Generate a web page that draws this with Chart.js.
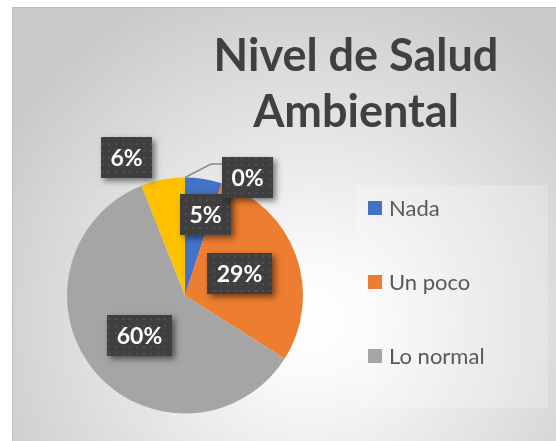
<!DOCTYPE html>
<html>
<head>
<script src="https://cdn.jsdelivr.net/npm/chart.js@4.4.1/dist/chart.umd.min.js"></script>
<style>
    body { margin: 0; background: #ffffff; }
    #wrap { width: 556px; height: 441px; }
</style>
</head>
<body>
<div id="wrap"><canvas id="myChart" width="556" height="441"></canvas></div>
<script>
    var titleLines = ['Nivel de Salud', 'Ambiental'];
    var categories = ['Nada', 'Un poco', 'Lo normal', 'Bastante', 'Mucho'];
    var values = [5, 29, 60, 6, 0];
    var colors = ['#4472C4', '#ED7D31', '#A5A5A5', '#FFC000', '#5B9BD5'];
    var legendShown = 3; // the legend is cut off after the third entry in the original

    // dotted dark fill for the label boxes
    var dots = document.createElement('canvas');
    dots.width = 7; dots.height = 7;
    var dctx = dots.getContext('2d');
    dctx.fillStyle = '#3f3f3f';
    dctx.fillRect(0, 0, 7, 7);
    dctx.fillStyle = '#505050';
    dctx.fillRect(3, 3, 2, 2);

    var backdrop = {
        id: 'backdrop',
        beforeDraw: function (chart) {
            var ctx = chart.ctx;
            ctx.save();
            ctx.fillStyle = '#ffffff';
            ctx.fillRect(0, 0, chart.width, chart.height);
            var g = ctx.createRadialGradient(310, 320, 0, 310, 320, 360);
            g.addColorStop(0, '#ffffff');
            g.addColorStop(0.15, '#fbfbfb');
            g.addColorStop(1, '#c9c9c9');
            ctx.fillStyle = g;
            ctx.fillRect(12, 7, chart.width - 12, chart.height - 7);
            ctx.strokeStyle = '#bdbdbd';
            ctx.lineWidth = 1;
            ctx.beginPath();
            ctx.moveTo(12.5, chart.height);
            ctx.lineTo(12.5, 7.5);
            ctx.lineTo(chart.width, 7.5);
            ctx.stroke();
            // legend panel
            ctx.fillStyle = 'rgba(255,255,255,0.22)';
            ctx.fillRect(356, 185, 192, 223);
            ctx.restore();
        }
    };

    var decor = {
        id: 'decor',
        afterDraw: function (chart) {
            var ctx = chart.ctx;
            ctx.save();
            ctx.fillStyle = '#404040';
            ctx.font = 'bold 45px Lato';
            ctx.textAlign = 'center';
            ctx.textBaseline = 'alphabetic';
            ctx.fillText(titleLines[0], 356, 71);
            ctx.fillText(titleLines[1], 356, 127);

            ctx.font = '22px Lato';
            ctx.textAlign = 'left';
            ctx.textBaseline = 'middle';
            for (var i = 0; i < legendShown; i++) {
                var y = 208 + i * 74;
                ctx.fillStyle = colors[i];
                ctx.fillRect(368, y - 7, 14, 14);
                ctx.fillStyle = '#595959';
                ctx.fillText(categories[i], 389, y + 1);
            }
            ctx.restore();
        }
    };

    var boxLabels = {
        id: 'boxLabels',
        afterDatasetsDraw: function (chart, args, opts) {
            var ctx = chart.ctx;
            var meta = chart.getDatasetMeta(0);
            var total = values.reduce(function (a, b) { return a + b; }, 0);
            ctx.save();
            ctx.font = 'bold 23px Lato';
            meta.data.forEach(function (arc, i) {
                var p = arc.getProps(['x', 'y', 'startAngle', 'endAngle', 'outerRadius'], true);
                var mid = (p.startAngle + p.endAngle) / 2;
                var a = mid + opts.turn[i] * Math.PI / 180;
                var r = p.outerRadius * opts.dist[i];
                var cx = p.x + Math.cos(a) * r;
                var cy = p.y + Math.sin(a) * r;
                var txt = Math.round(values[i] / total * 100) + '%';
                var w = Math.round(ctx.measureText(txt).width + 19);
                var h = 41;
                var left = Math.round(cx - w / 2), top = Math.round(cy - h / 2);

                if (opts.leader[i]) {
                    ctx.strokeStyle = '#8c8c8c';
                    ctx.lineWidth = 1.5;
                    ctx.beginPath();
                    ctx.moveTo(p.x + Math.cos(mid) * p.outerRadius, p.y + Math.sin(mid) * p.outerRadius);
                    ctx.lineTo(left - 11, top + 7);
                    ctx.lineTo(left, top + 7);
                    ctx.stroke();
                }

                ctx.shadowColor = 'rgba(0,0,0,0.5)';
                ctx.shadowBlur = 6;
                ctx.shadowOffsetX = 3;
                ctx.shadowOffsetY = 3;
                ctx.fillStyle = '#3f3f3f';
                ctx.fillRect(left, top, w, h);
                ctx.shadowColor = 'transparent';
                ctx.fillStyle = ctx.createPattern(dots, 'repeat');
                ctx.fillRect(left, top, w, h);

                ctx.fillStyle = '#ffffff';
                ctx.textAlign = 'center';
                ctx.textBaseline = 'middle';
                ctx.fillText(txt, left + w / 2, top + h / 2 + 1);
            });
            ctx.restore();
        }
    };

    var ctx = document.getElementById('myChart').getContext('2d');
    var pieChart = new Chart(ctx, {
        type: 'pie',
        data: {
            labels: categories,
            datasets: [{
                data: values,
                backgroundColor: colors,
                borderWidth: 0
            }]
        },
        options: {
            responsive: false,
            animation: false,
            layout: {
                padding: { left: 67, right: 253, top: 177, bottom: 27 }
            },
            plugins: {
                legend: { display: false },
                title: { display: false },
                tooltip: { enabled: false },
                boxLabels: {
                    dist: [0.71, 0.5, 0.51, 1.27, 1.13],
                    turn: [5, -2, -2, -12, 28],
                    leader: [false, false, false, false, true]
                }
            }
        },
        plugins: [backdrop, boxLabels, decor]
    });
</script>
</body>
</html>
